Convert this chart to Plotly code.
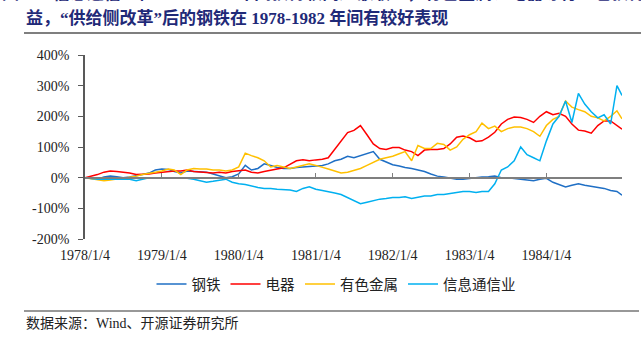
import pandas as pd
import plotly.graph_objects as go

# Monthly observations, 1978/1/4 .. 1984/12/28 (cumulative return, %)
dates = list(pd.date_range("1978-01-04", periods=84, freq=pd.DateOffset(months=1))) + [pd.Timestamp("1984-12-28")]

steel = [0, -3, -5, 2, 5, 3, 0, 2, 5, 10, 15, 25,
         28, 27, 20, 15, 22, 20, 20, 18, 12, 5, 0, 3,
         12, 40, 25, 30, 45, 40, 33, 30, 30, 33, 35, 38,
         40, 40, 45, 55, 60, 70, 65, 72, 78, 85, 60, 50,
         42, 38, 33, 30, 25, 20, 12, 5, 2, -2, -5, -5,
         -2, 0, 2, 3, 5, 0, 0, -3, -5, -8, -10, -5,
         -2, -15, -22, -30, -25, -20, -25, -28, -32, -35, -42, -45,
         -57]

appliance = [0, 5, 10, 18, 22, 20, 18, 15, 10, 10, 12, 15,
             18, 20, 22, 22, 25, 20, 18, 15, 15, 18, 15, 20,
             22, 25, 18, 15, 20, 25, 28, 32, 45, 55, 58, 55,
             58, 60, 65, 92, 120, 147, 154, 170, 140, 110, 95, 92,
             98, 98, 90, 85, 72, 90, 92, 92, 95, 110, 132, 136,
             130, 118, 120, 132, 148, 175, 190, 198, 196, 190, 180, 200,
             215, 205, 210, 200, 175, 155, 152, 145, 170, 185, 185, 170,
             158]

nonferrous = [0, -3, -5, -10, -8, -5, -2, 0, 5, 10, 15, 18,
              22, 28, 25, 10, 25, 30, 28, 28, 25, 25, 22, 25,
              35, 80, 72, 65, 55, 35, 40, 35, 30, 35, 40, 45,
              40, 35, 28, 22, 15, 18, 25, 30, 40, 50, 60, 65,
              70, 78, 85, 55, 105, 95, 95, 112, 108, 90, 100, 125,
              140, 150, 178, 160, 168, 150, 160, 165, 165, 160, 150, 135,
              170, 190, 200, 250, 230, 222, 215, 200, 195, 185, 200, 218,
              192]

telecom = [0, -3, -5, -5, -5, -3, -3, -5, -10, -5, 0, 0,
           0, 0, 0, 0, -2, -5, -10, -15, -12, -8, -5, -15,
           -20, -22, -28, -32, -35, -35, -38, -38, -40, -45, -35, -30,
           -38, -42, -45, -50, -55, -65, -75, -85, -80, -75, -70, -68,
           -65, -65, -62, -68, -65, -60, -60, -55, -55, -52, -50, -45,
           -45, -48, -45, -45, -20, 25, 35, 55, 100, 75, 65, 55,
           120, 175, 200, 250, 180, 275, 240, 215, 195, 205, 175, 300,
           268]

series_names = ["钢铁", "电器", "有色金属", "信息通信业"]
series_values = [steel, appliance, nonferrous, telecom]
series_colors = ["#1F6FC5", "#FF0000", "#FFC000", "#00B0F0"]

tick_dates = [pd.Timestamp(f"{y}-01-04") for y in range(1978, 1985)]
tick_text = [f"{y}/1/4" for y in range(1978, 1985)]
y_ticks = [-200, -100, 0, 100, 200, 300, 400]
y_text = [f"{v}%" for v in y_ticks]

W, H = 641, 342
L, R, T, B = 85, 19, 55, 103
PW, PH = W - L - R, H - T - B

fig = go.Figure()
for name, vals, col in zip(series_names, series_values, series_colors):
    fig.add_trace(go.Scatter(x=dates, y=vals, name=name, mode="lines",
                             line=dict(color=col, width=1.5), hoverinfo="skip"))

# carrier trace for the zero-level axis
fig.add_trace(go.Scatter(x=[dates[0]], y=[None], xaxis="x2", showlegend=False,
                         hoverinfo="skip", mode="lines"))

serif = "Liberation Serif"
cjk = "Noto Sans CJK SC"

fig.update_layout(
    width=W, height=H,
    margin=dict(l=L, r=R, t=T, b=B, autoexpand=False),
    plot_bgcolor="white", paper_bgcolor="white",
    showlegend=True,
    legend=dict(orientation="h", xref="container", yref="container",
                x=336 / W, xanchor="center", y=1 - 284 / H, yanchor="middle",
                font=dict(family=cjk, size=14.5, color="#222"),
                itemwidth=30, tracegroupgap=0, bgcolor="rgba(0,0,0,0)"),
    xaxis=dict(range=[dates[0], dates[-1]], tickvals=tick_dates, ticktext=tick_text,
               showline=False, showgrid=False, zeroline=False, ticks="",
               ticklabelstandoff=6, automargin=False,
               tickfont=dict(family=serif, size=14, color="#222")),
    xaxis2=dict(range=[dates[0], dates[-1]], overlaying="x", anchor="free",
                position=1 / 3, side="top", showline=True, linecolor="#7F7F7F",
                linewidth=1.5, ticks="outside", ticklen=4, tickwidth=1.2,
                tickcolor="#7F7F7F", tickvals=tick_dates[1:], showticklabels=False,
                showgrid=False, zeroline=False, automargin=False),
    yaxis=dict(range=[-200, 400], tickvals=y_ticks, ticktext=y_text,
               showline=True, linecolor="#595959", linewidth=1.5,
               ticks="outside", ticklen=5, tickcolor="#595959", tickwidth=1.2,
               showgrid=False, zeroline=False, ticklabelstandoff=6, automargin=False,
               tickfont=dict(family=serif, size=14, color="#222")),
)

title_color = "#1F2A78"
title_font = dict(family=serif + ", " + cjk, size=17, color=title_color)
fig.add_annotation(xref="paper", yref="paper", x=-L / PW, y=1 + (T + 6.5) / PH,
                   xanchor="left", yanchor="middle", showarrow=False, font=title_font,
                   text="<b>图13：信息通信业在 1978-1984 年间获得较高超额收益，有色金属、电器等行业也获得超额收</b>")
fig.add_annotation(xref="paper", yref="paper", x=(24 - L) / PW, y=1 + (T - 18) / PH,
                   xanchor="left", yanchor="middle", showarrow=False, font=title_font,
                   text="<b>益，“供给侧改革”后的钢铁在 1978-1982 年间有较好表现</b>")
fig.add_annotation(xref="paper", yref="paper", x=(24 - L) / PW, y=-(323 - (H - B)) / PH,
                   xanchor="left", yanchor="middle", showarrow=False,
                   font=dict(family=serif + ", " + cjk, size=14, color="#222"),
                   text="数据来源：Wind、开源证券研究所")

# rules under the title and above the source line
fig.add_shape(type="line", xref="paper", yref="paper",
              x0=(24 - L) / PW, x1=(W - L) / PW,
              y0=1 + (T - 33) / PH, y1=1 + (T - 33) / PH,
              line=dict(color="#7F7F7F", width=2))
fig.add_shape(type="line", xref="paper", yref="paper",
              x0=(24 - L) / PW, x1=(639 - L) / PW,
              y0=-(311 - (H - B)) / PH, y1=-(311 - (H - B)) / PH,
              line=dict(color="#333333", width=1.2))

fig.write_html("out.html")
